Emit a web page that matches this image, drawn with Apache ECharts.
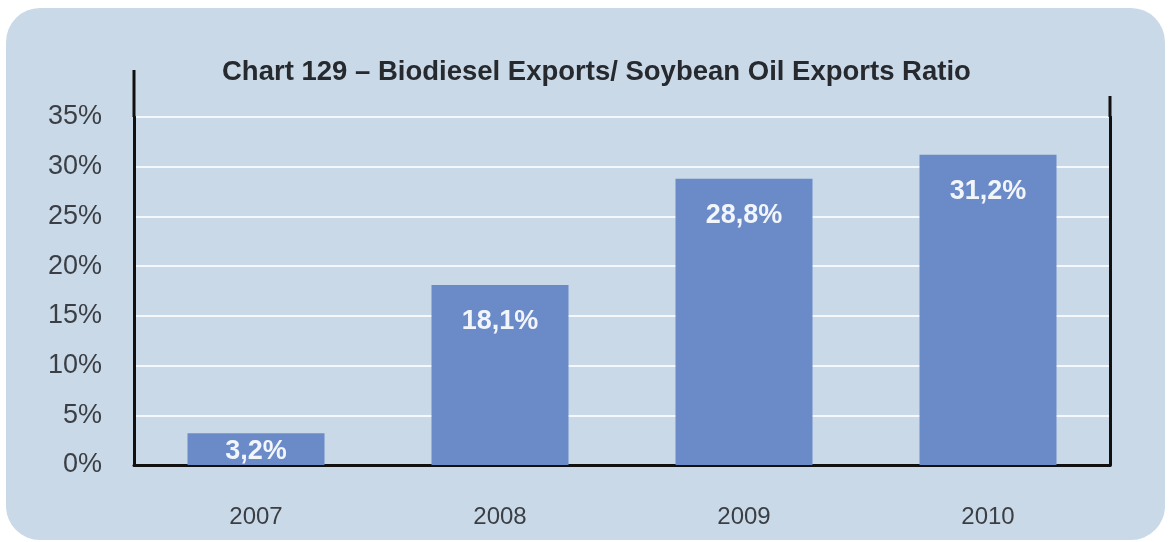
<!DOCTYPE html>
<html>
<head>
<meta charset="utf-8">
<script src="https://cdn.jsdelivr.net/npm/echarts@6/dist/echarts.min.js"></script>
<style>
  html, body { margin:0; padding:0; background:#fff; }
  #panel { position:absolute; left:6px; top:8px; width:1159px; height:532px; background:#c9d9e7; border-radius:34px; }
  #chart { position:absolute; left:0; top:0; width:1170px; height:542px; }
</style>
</head>
<body>
<div id="panel"></div>
<div id="chart"></div>
<script>
var years = ['2007', '2008', '2009', '2010'];
var ratio = [3.2, 18.1, 28.8, 31.2];
var yTicks = [0, 5, 10, 15, 20, 25, 30, 35];

var chart = echarts.init(document.getElementById('chart'));

function pct(v){ return String(v).replace('.', ',') + '%'; }

var barData = ratio.map(function (v) {
  // short bar: label sits right under its top edge
  return { value: v, label: { distance: v < 5 ? 5 : 23 } };
});

var option = {
  backgroundColor: 'transparent',
  animation: false,
  title: {
    text: 'Chart 129 – Biodiesel Exports/ Soybean Oil Exports Ratio',
    left: 217,
    top: 53,
    textStyle: { fontFamily: 'Liberation Sans, Arial', fontSize: 27.5, fontWeight: 'bold', color: '#26292e' }
  },
  grid: { left: 134, right: 60, top: 117, bottom: 77 },
  xAxis: {
    type: 'category',
    data: years,
    axisLine: { lineStyle: { color: '#111', width: 3 } },
    axisTick: { show: false },
    axisLabel: { margin: 40, fontFamily: 'Liberation Sans, Arial', fontSize: 24, color: '#3b3f45' }
  },
  yAxis: [{
    type: 'value',
    min: yTicks[0],
    max: yTicks[yTicks.length - 1],
    interval: 5,
    axisLine: { show: true, lineStyle: { color: '#111', width: 3 } },
    axisTick: { show: false },
    axisLabel: { margin: 32, fontFamily: 'Liberation Sans, Arial', fontSize: 27, color: '#3b3f45', formatter: '{value}%' },
    splitLine: { lineStyle: { color: '#f4f8fc', width: 2 } }
  }, {
    type: 'value',
    position: 'right',
    min: yTicks[0],
    max: yTicks[yTicks.length - 1],
    interval: 5,
    axisLine: { show: true, lineStyle: { color: '#111', width: 3 } },
    axisTick: { show: false },
    axisLabel: { show: false },
    splitLine: { show: false }
  }],
  series: [{
    type: 'bar',
    data: barData,
    barWidth: 137,
    itemStyle: { color: '#6b8bc8' },
    label: {
      show: true,
      position: 'insideTop',
      formatter: function (p) { return pct(p.value); },
      fontFamily: 'Liberation Sans, Arial',
      fontSize: 27,
      fontWeight: 'bold',
      color: '#f2f6fb'
    }
  }]
};
chart.setOption(option);

// axis line extensions above the plot area
var topL = chart.convertToPixel({ gridIndex: 0 }, [0, 35]);
var xr = chart.getWidth() - 60;
chart.setOption({
  graphic: [
    { type: 'line', shape: { x1: 134, y1: 70, x2: 134, y2: topL[1] }, style: { stroke: '#111', lineWidth: 3 } },
    { type: 'line', shape: { x1: xr, y1: 96, x2: xr, y2: topL[1] }, style: { stroke: '#111', lineWidth: 3 } }
  ]
});
</script>
</body>
</html>
